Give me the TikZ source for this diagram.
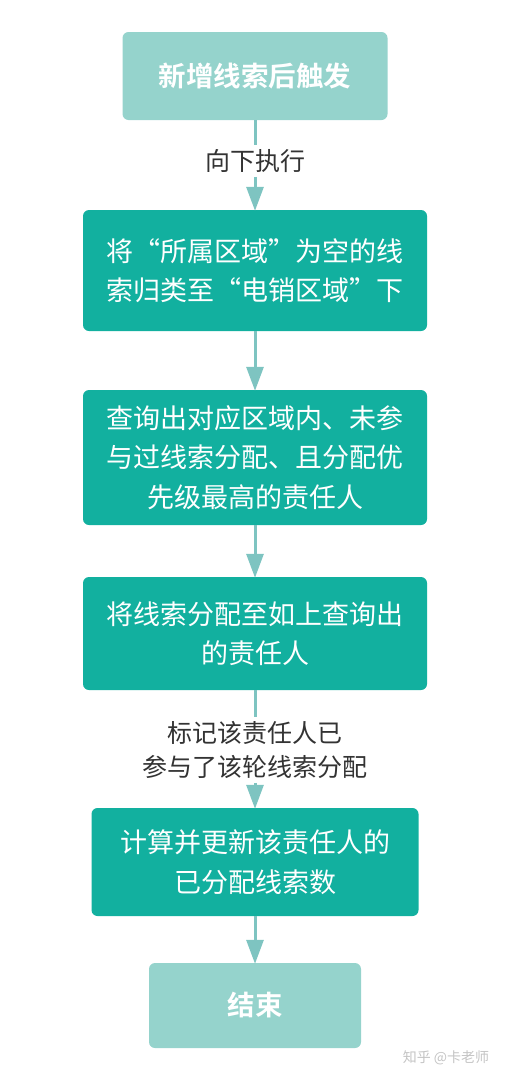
\documentclass[tikz,border=0pt]{standalone}
\usepackage{fontspec}
\newfontfamily\cjk{Noto Sans CJK SC}[BoldFont={Noto Sans CJK SC Bold}]
\usetikzlibrary{arrows.meta}
\definecolor{lightteal}{HTML}{95D3CC}
\definecolor{darkteal}{HTML}{12B09F}
\definecolor{arrowc}{HTML}{7EC4C1}
\definecolor{labelc}{HTML}{333333}
\definecolor{wmark}{HTML}{C4C4C4}
\tikzset{
  base/.style={rounded corners=6pt, inner sep=0pt, align=center, text=white, anchor=center},
  lightbox/.style={base, fill=lightteal, font=\cjk\bfseries\fontsize{27.5}{38}\selectfont},
  darkbox/.style={base, fill=darkteal, font=\cjk\fontsize{27}{39.5}\selectfont},
  lbl/.style={fill=white, text=labelc, align=center, inner sep=0pt, inner ysep=4pt, font=\cjk\fontsize{25}{34}\selectfont},
  conn/.style={draw=arrowc, line width=3pt},
  arr/.style={conn, -{Triangle[width=17pt,length=24pt]}, shorten >=-1pt}
}
\begin{document}
\begin{tikzpicture}[x=1pt,y=-1pt]
\useasboundingbox (0,0) rectangle (510,1084);
\node[lightbox, minimum width=265pt, minimum height=88pt] (b1) at (255,76) {新增线索后触发};
\node[darkbox, minimum width=344pt, minimum height=121pt] (b2) at (255,270.5) {将“所属区域”为空的线\\索归类至“电销区域”下};
\node[darkbox, minimum width=344pt, minimum height=135pt] (b3) at (255,457.5) {查询出对应区域内、未参\\与过线索分配、且分配优\\先级最高的责任人};
\node[darkbox, minimum width=344pt, minimum height=113pt] (b4) at (255,633.5) {将线索分配至如上查询出\\的责任人};
\node[darkbox, minimum width=327pt, minimum height=108pt] (b5) at (255,862) {计算并更新该责任人的\\已分配线索数};
\node[lightbox, minimum width=212pt, minimum height=85pt] (b6) at (255,1005.5) {结束};
\node[lbl] (l1) at (255,161) {向下执行};
\node[lbl] (l2) at (255,750) {标记该责任人已\\参与了该轮线索分配};
\draw[conn] (b1.south) -- (l1.north);
\draw[arr] (l1.south) -- (b2.north);
\draw[arr] (b2.south) -- (b3.north);
\draw[arr] (b3.south) -- (b4.north);
\draw[conn] (b4.south) -- (l2.north);
\draw[arr] (l2.south) -- (b5.north);
\draw[arr] (b5.south) -- (b6.north);
\node[text=wmark, font=\cjk\fontsize{14}{16}\selectfont, inner sep=0pt] (wm) at (446,1058) {知乎 @卡老师};
\end{tikzpicture}
\end{document}
